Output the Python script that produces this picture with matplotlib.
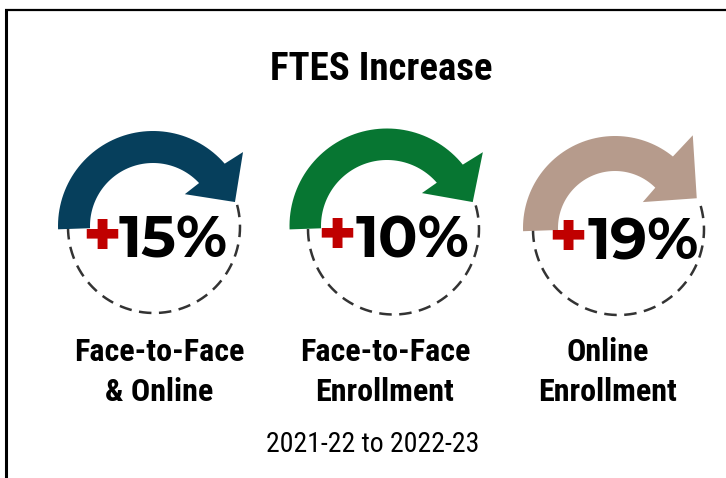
import matplotlib
matplotlib.use("Agg")
import matplotlib.pyplot as plt
from matplotlib.patches import Polygon
import numpy as np

# chart content
title = "FTES Increase"
subtitle = "2021-22 to 2022-23"
labels = ["Face-to-Face\n& Online", "Face-to-Face\nEnrollment", "Online\nEnrollment"]
increase_pct = [15, 10, 19]
arrow_colors = ["#063F5C", "#077632", "#B69B8C"]

W, H = 726, 478
NARROW = ["Roboto Condensed", "Liberation Sans"]
NUMFONT = ["Montserrat Alternates", "Lato"]

# icon geometry (pixel units): arrow centre, radii, head points (r, deg), dashed ring
arrow_geo = [
    dict(c=(153, 226), rin=63, rout=95, out_end=41, in_end=43,
         head_out=(116.5, 39.4), tip=(85.4, 16.3), head_in=(45, 45)),
    dict(c=(387, 226), rin=66, rout=97.5, out_end=39, in_end=41,
         head_out=(121, 37.6), tip=(89, 15.6), head_in=(48, 43.3)),
    dict(c=(615, 228), rin=57, rout=92, out_end=51, in_end=45,
         head_out=(121, 50), tip=(87, 20), head_in=(38, 43)),
]
rings = [(154, 227, 86), (393.5, 229, 85.5), (618.5, 229.5, 85.5)]
plus_pos = [(102, 238), (337, 237), (568, 240)]
num_pos = [(173, 258), (412, 257), (643, 260)]
label_x = [159, 385, 608]


def pt(c, r, deg):
    a = np.radians(deg)
    return (c[0] + r * np.cos(a), c[1] - r * np.sin(a))


def arrow_poly(g):
    c = g["c"]
    outer = [pt(c, g["rout"], d) for d in np.linspace(182, g["out_end"], 60)]
    inner = [pt(c, g["rin"], d) for d in np.linspace(g["in_end"], 182, 60)]
    head = [pt(c, *g["head_out"]), pt(c, *g["tip"]), pt(c, *g["head_in"])]
    return outer + head + inner


fig = plt.figure(figsize=(W / 100, H / 100), dpi=100)
ax = fig.add_axes([0, 0, 1, 1])
ax.set_xlim(0, W)
ax.set_ylim(H, 0)
ax.axis("off")

# frame (only top and left edges show)
ax.plot([5, W], [9.5, 9.5], color="black", lw=1.6, solid_capstyle="butt")
ax.plot([5.5, 5.5], [9, H], color="black", lw=2.2, solid_capstyle="butt")

ax.text(381, 69, title, ha="center", va="center", fontsize=28, fontweight="bold",
        family=NARROW)

for i in range(3):
    cx, cy, r = rings[i]
    th = np.radians(np.linspace(180, 376, 200))
    ax.plot(cx + r * np.cos(th), cy - r * np.sin(th), color="#333333", lw=1.8,
            linestyle=(0, (5.0, 3.0)), zorder=1)
    ax.add_patch(Polygon(arrow_poly(arrow_geo[i]), closed=True,
                         facecolor=arrow_colors[i], edgecolor="none", zorder=2))
    ax.text(*plus_pos[i], "+", ha="center", va="center", color="#C00000",
            fontsize=46, fontweight="heavy", family=NUMFONT, zorder=3)
    ax.text(*num_pos[i], f"{increase_pct[i]}%", ha="center", va="baseline",
            color="black", fontsize=42, fontweight="bold", family=NUMFONT, zorder=3)
    ax.text(label_x[i], 372, labels[i], ha="center", va="center", fontsize=23,
            fontweight="bold", linespacing=1.38, family=NARROW)

ax.text(373, 445, subtitle, ha="center", va="center", fontsize=20, family=NARROW)

fig.savefig("out.png", dpi=100)
